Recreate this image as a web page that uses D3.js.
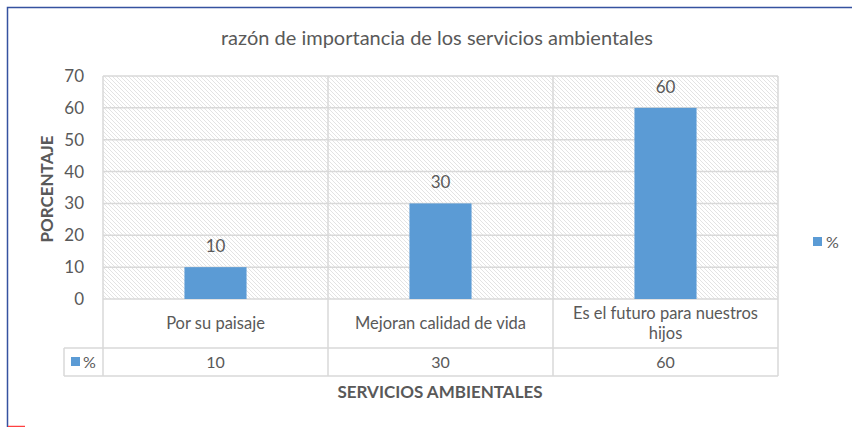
<!DOCTYPE html>
<html>
<head>
<meta charset="utf-8">
<script src="https://cdn.jsdelivr.net/npm/d3@7"></script>
<style>
  body { margin: 0; background: #fff; }
  text { font-family: Lato, "Liberation Sans", sans-serif; fill: #595959; }
</style>
</head>
<body>
<script>
// chart data
const categories = ['Por su paisaje', 'Mejoran calidad de vida', 'Es el futuro para nuestros hijos'];
const categoryLines = [['Por su paisaje'], ['Mejoran calidad de vida'], ['Es el futuro para nuestros', 'hijos']];
const values = [10, 30, 60];
const yTicks = [0, 10, 20, 30, 40, 50, 60, 70];
const seriesName = '%';

const W = 852, H = 427;
const plot = { left: 103, right: 778, top: 76, bottom: 299 };
const rowCat = 348, rowData = 376, legendCellLeft = 64;
const gridColor = '#d9d9d9';
const barColor = '#5b9bd5';

const svg = d3.select('body').append('svg')
  .attr('width', W)
  .attr('height', H);

// hatch pattern for plot background
const defs = svg.append('defs');
const hatch = defs.append('pattern')
  .attr('id', 'hatch')
  .attr('patternUnits', 'userSpaceOnUse')
  .attr('width', 4).attr('height', 4);
hatch.append('path')
  .attr('d', 'M0,0 L4,4 M3,-1 L5,1 M-1,3 L1,5')
  .attr('stroke', '#e3e3e3')
  .attr('stroke-width', 1);

// outer frame
svg.append('path')
  .attr('d', `M7.5,${H} L7.5,7.5 L${W},7.5`)
  .attr('fill', 'none')
  .attr('stroke', '#3552a0')
  .attr('stroke-width', 1.5);
svg.append('line')
  .attr('x1', 8).attr('x2', 25).attr('y1', 426.5).attr('y2', 426.5)
  .attr('stroke', '#ff4040').attr('stroke-width', 1.5);

// scales
const x = d3.scaleBand()
  .domain(categories)
  .range([plot.left, plot.right])
  .paddingInner(0.724)
  .paddingOuter(0.362);
const y = d3.scaleLinear()
  .domain([0, 70])
  .range([plot.bottom, plot.top]);
const step = x.step();

// background
svg.append('rect')
  .attr('x', plot.left).attr('y', plot.top)
  .attr('width', plot.right - plot.left)
  .attr('height', plot.bottom - plot.top)
  .attr('fill', 'url(#hatch)');

// gridlines
svg.append('g')
  .selectAll('line')
  .data(yTicks)
  .join('line')
  .attr('x1', plot.left).attr('x2', plot.right)
  .attr('y1', d => y(d)).attr('y2', d => y(d))
  .attr('stroke', gridColor)
  .attr('stroke-width', 1.5);

// y tick labels
svg.append('g')
  .selectAll('text')
  .data(yTicks)
  .join('text')
  .attr('x', 84)
  .attr('y', d => y(d))
  .attr('dy', '0.35em')
  .attr('text-anchor', 'end')
  .style('font-size', '17px')
  .text(d => d);

// table grid
const table = svg.append('g')
  .attr('stroke', gridColor)
  .attr('stroke-width', 1.5)
  .attr('fill', 'none');
const colEdges = d3.range(categories.length + 1).map(i => plot.left + i * step);
colEdges.forEach(cx => {
  table.append('line').attr('x1', cx).attr('x2', cx).attr('y1', plot.top).attr('y2', rowData);
});
[rowCat, rowData].forEach(ry => {
  table.append('line').attr('x1', legendCellLeft).attr('x2', plot.right).attr('y1', ry).attr('y2', ry);
});
table.append('line').attr('x1', legendCellLeft).attr('x2', legendCellLeft).attr('y1', rowCat).attr('y2', rowData);

// bars
svg.append('g')
  .selectAll('rect')
  .data(values)
  .join('rect')
  .attr('x', (d, i) => x(categories[i]))
  .attr('y', d => y(d))
  .attr('width', x.bandwidth())
  .attr('height', d => y(0) - y(d))
  .attr('fill', barColor);

// data labels
svg.append('g')
  .selectAll('text')
  .data(values)
  .join('text')
  .attr('x', (d, i) => x(categories[i]) + x.bandwidth() / 2)
  .attr('y', d => y(d) - 15)
  .attr('text-anchor', 'middle')
  .style('font-size', '17px')
  .text(d => d);

// category labels in table
const catG = svg.append('g');
categoryLines.forEach((lines, i) => {
  const cx = plot.left + (i + 0.5) * step;
  const cy = (plot.bottom + rowCat) / 2;
  lines.forEach((ln, j) => {
    catG.append('text')
      .attr('x', cx)
      .attr('y', cy + (j - (lines.length - 1) / 2) * 20)
      .attr('dy', '0.35em')
      .attr('text-anchor', 'middle')
      .style('font-size', '16.5px')
      .text(ln);
  });
});

// data row
svg.append('g')
  .selectAll('text')
  .data(values)
  .join('text')
  .attr('x', (d, i) => plot.left + (i + 0.5) * step)
  .attr('y', (rowCat + rowData) / 2)
  .attr('dy', '0.35em')
  .attr('text-anchor', 'middle')
  .style('font-size', '16px')
  .text(d => d);

// legend key inside table
svg.append('rect')
  .attr('x', 71).attr('y', 357).attr('width', 9).attr('height', 9)
  .attr('fill', barColor);
svg.append('text')
  .attr('x', 83).attr('y', 362).attr('dy', '0.35em')
  .style('font-size', '16px')
  .text(seriesName);

// right legend
svg.append('rect')
  .attr('x', 813).attr('y', 237).attr('width', 9).attr('height', 9)
  .attr('fill', barColor);
svg.append('text')
  .attr('x', 826).attr('y', 242).attr('dy', '0.35em')
  .style('font-size', '16px')
  .text(seriesName);

// title
svg.append('text')
  .attr('x', 437).attr('y', 38).attr('dy', '0.35em')
  .attr('text-anchor', 'middle')
  .style('font-size', '20px')
  .text('razón de importancia de los servicios ambientales');

// axis titles
svg.append('text')
  .attr('transform', 'translate(47,189) rotate(-90)')
  .attr('dy', '0.35em')
  .attr('text-anchor', 'middle')
  .style('font-size', '17px')
  .style('font-weight', 'bold')
  .text('PORCENTAJE');
svg.append('text')
  .attr('x', 440).attr('y', 392).attr('dy', '0.35em')
  .attr('text-anchor', 'middle')
  .style('font-size', '17px')
  .style('font-weight', 'bold')
  .text('SERVICIOS AMBIENTALES');
</script>
</body>
</html>
